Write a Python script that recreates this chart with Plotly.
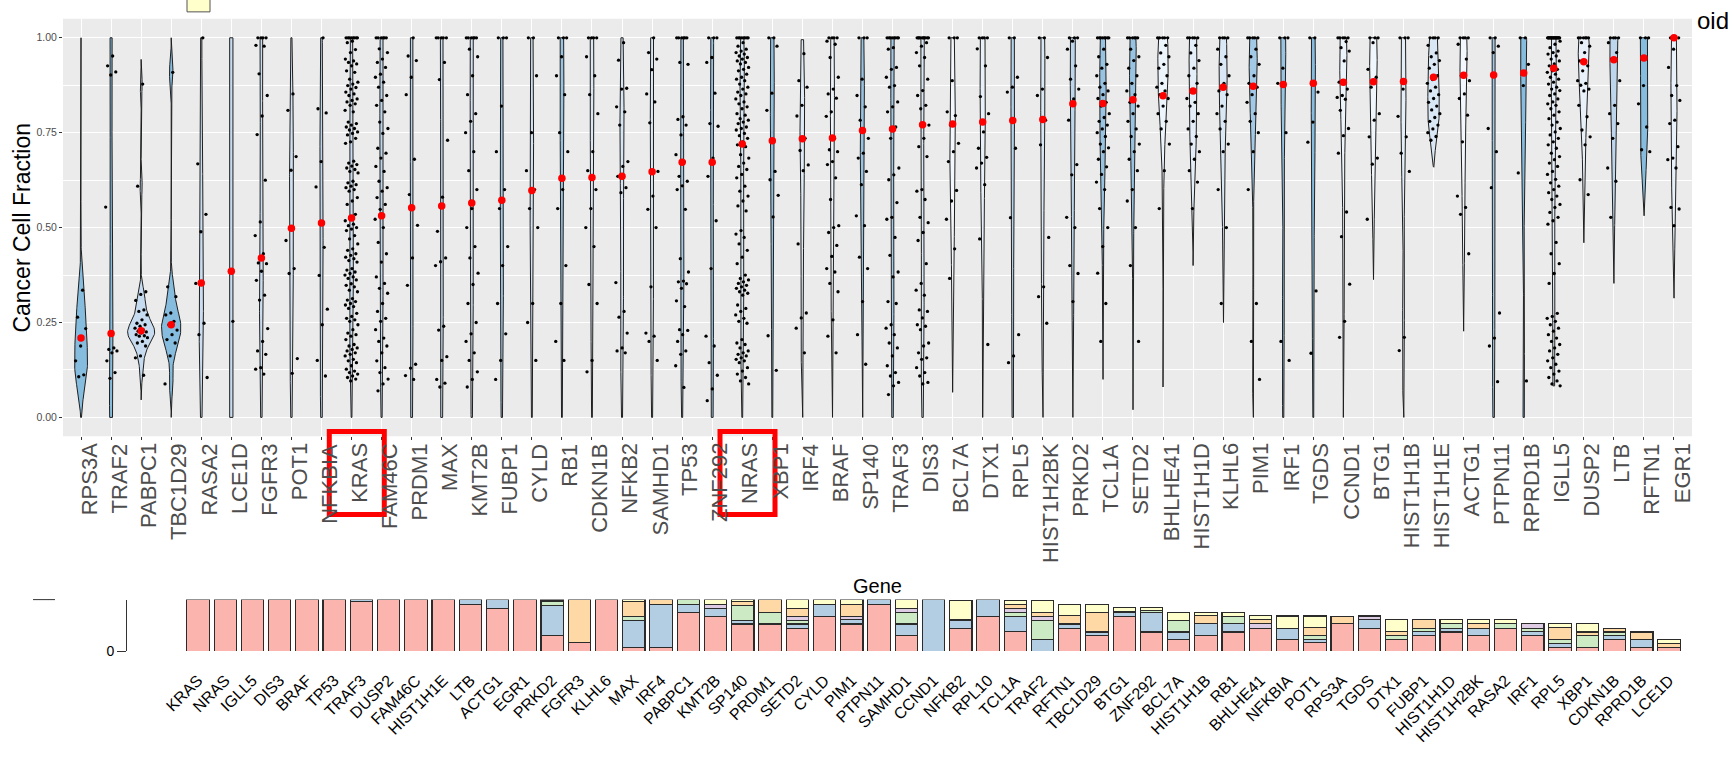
import numpy as np
import plotly.graph_objects as go

W, H = 1735, 760

# ---------------- violin panel: genes ordered by mean CCF ----------------
genes = ["RPS3A", "TRAF2", "PABPC1", "TBC1D29", "RASA2", "LCE1D", "FGFR3", "POT1", "NFKBIA",
         "KRAS", "FAM46C", "PRDM1", "MAX", "KMT2B", "FUBP1", "CYLD", "RB1", "CDKN1B", "NFKB2",
         "SAMHD1", "TP53", "ZNF292", "NRAS", "XBP1", "IRF4", "BRAF", "SP140", "TRAF3", "DIS3",
         "BCL7A", "DTX1", "RPL5", "HIST1H2BK", "PRKD2", "TCL1A", "SETD2", "BHLHE41", "HIST1H1D",
         "KLHL6", "PIM1", "IRF1", "TGDS", "CCND1", "BTG1", "HIST1H1B", "HIST1H1E", "ACTG1",
         "PTPN11", "RPRD1B", "IGLL5", "DUSP2", "LTB", "RFTN1", "EGR1"]

mean_ccf = [0.209, 0.221, 0.228, 0.244, 0.354, 0.385, 0.420, 0.498, 0.512, 0.525, 0.531, 0.552,
            0.557, 0.565, 0.572, 0.598, 0.630, 0.632, 0.635, 0.647, 0.672, 0.672, 0.720, 0.729,
            0.734, 0.736, 0.756, 0.760, 0.771, 0.773, 0.778, 0.782, 0.785, 0.826, 0.827, 0.837,
            0.847, 0.860, 0.870, 0.872, 0.877, 0.880, 0.883, 0.884, 0.885, 0.896, 0.901, 0.902,
            0.907, 0.920, 0.937, 0.942, 0.947, 1.000]

fill_score = [0.85, 0.85, 0.5, 0.85, 0.45, 0.5, 0.45, 0.4, 0.55, 0.45, 0.55, 0.6, 0.5, 0.4, 0.7,
              0.4, 0.75, 0.3, 0.35, 0.3, 0.7, 0.75, 0.35, 0.8, 0.25, 0.1, 0.75, 0.7, 0.3, 0.05,
              0.15, 0.6, 0.3, 0.55, 0.75, 0.75, 0.1, 0.2, 0.3, 0.7, 0.75, 0.85, 0.1, 0.08, 0.2,
              0.3, 0.05, 0.7, 0.85, 0.2, 0.15, 0.55, 0.85, 0.15]

violin_low = [0, 0, 0.046, 0, 0, 0, 0, 0, 0, 0, 0, 0, 0, 0, 0, 0, 0, 0, 0, 0, 0, 0, 0, 0, 0, 0,
              0, 0, 0, 0.066, 0, 0, 0, 0, 0.1, 0.02, 0.08, 0.4, 0.25, 0, 0, 0, 0, 0.363, 0,
              0.659, 0.227, 0, 0, 0.083, 0.46, 0.353, 0.531, 0.314]
violin_high = [1.0, 1.0, 0.943, 1.0, 1.0, 1.0, 1.0, 1.0, 1.0, 1.0, 1.0, 1.0, 1.0, 1.0, 1.0, 1.0,
               1.0, 1.0, 1.0, 1.0, 1.0, 1.0, 1.0, 1.0, 0.995, 1.0, 1.0, 1.0, 1.0, 1.0, 1.0, 1.0,
               1.0, 1.0, 1.0, 1.0, 1.0, 1.0, 1.0, 1.0, 1.0, 1.0, 1.0, 1.0, 1.0, 1.0, 1.0, 1.0,
               1.0, 1.0, 1.0, 1.0, 1.0, 1.0]

# per-sample CCF values
ccf_RPS3A = [0.335, 0.264, 0.234, 0.188, 0.149, 0.112, 0.107]
ccf_TRAF2 = [0.952, 0.926, 0.910, 0.902, 0.554, 0.183, 0.179, 0.175, 0.170, 0.149, 0.118, 0.103]
ccf_PABPC1 = [0.878, 0.609, 0.331, 0.324, 0.308, 0.283, 0.279, 0.270, 0.257, 0.248, 0.244, 0.240,
              0.235, 0.231, 0.227, 0.225, 0.222, 0.218, 0.215, 0.214, 0.210, 0.200, 0.196, 0.188,
              0.162, 0.157, 0.111]
ccf_TBC1D29 = [0.909, 0.344, 0.318, 0.275, 0.270, 0.253, 0.244, 0.230, 0.218, 0.205, 0.196, 0.162, 0.088]
ccf_RASA2 = [1.0, 0.668, 0.535, 0.489, 0.353, 0.248, 0.218, 0.105]
ccf_LCE1D = [0.253]
ccf_FGFR3 = [1.0, 1.0, 1.0, 1.0, 0.980, 0.978, 0.905, 0.848, 0.794, 0.745, 0.625, 0.515, 0.479,
             0.431, 0.407, 0.405, 0.385, 0.361, 0.322, 0.309, 0.234, 0.200, 0.175, 0.166, 0.131,
             0.127, 0.114]
ccf_POT1 = [0.852, 0.809, 0.687, 0.651, 0.466, 0.392, 0.379, 0.155, 0.116]
ccf_NFKBIA = [1.0, 0.813, 0.802, 0.674, 0.607, 0.448, 0.374, 0.285, 0.244, 0.150, 0.109]
ccf_KRAS = [1.0, 1.0, 1.0, 1.0, 1.0, 1.0, 1.0, 1.0, 0.991, 0.987, 0.969, 0.961, 0.944, 0.939,
            0.935, 0.931, 0.926, 0.913, 0.909, 0.891, 0.883, 0.878, 0.874, 0.869, 0.865, 0.857,
            0.852, 0.848, 0.839, 0.835, 0.831, 0.826, 0.822, 0.809, 0.805, 0.778, 0.774, 0.770,
            0.765, 0.761, 0.757, 0.752, 0.748, 0.744, 0.735, 0.726, 0.722, 0.675, 0.670, 0.666,
            0.662, 0.657, 0.653, 0.648, 0.644, 0.622, 0.618, 0.613, 0.609, 0.605, 0.600, 0.596,
            0.579, 0.570, 0.561, 0.535, 0.526, 0.518, 0.509, 0.505, 0.500, 0.496, 0.492, 0.479,
            0.470, 0.457, 0.444, 0.440, 0.431, 0.427, 0.422, 0.418, 0.413, 0.409, 0.392, 0.388,
            0.383, 0.379, 0.375, 0.370, 0.366, 0.362, 0.352, 0.348, 0.344, 0.335, 0.331, 0.313,
            0.309, 0.305, 0.300, 0.296, 0.292, 0.287, 0.274, 0.266, 0.261, 0.257, 0.253, 0.244,
            0.231, 0.222, 0.218, 0.214, 0.205, 0.192, 0.188, 0.183, 0.179, 0.175, 0.170, 0.166,
            0.162, 0.153, 0.149, 0.144, 0.136, 0.127, 0.122, 0.118, 0.114, 0.109, 0.105, 0.101,
            0.096]
ccf_FAM46C = [1.0, 1.0, 1.0, 1.0, 1.0, 1.0, 0.971, 0.961, 0.944, 0.935, 0.922, 0.904, 0.896,
              0.883, 0.870, 0.848, 0.835, 0.822, 0.805, 0.778, 0.761, 0.748, 0.709, 0.696, 0.683,
              0.661, 0.648, 0.622, 0.605, 0.596, 0.579, 0.561, 0.548, 0.522, 0.500, 0.461, 0.431,
              0.409, 0.370, 0.353, 0.340, 0.327, 0.300, 0.279, 0.261, 0.253, 0.231, 0.209, 0.200,
              0.188, 0.170, 0.149, 0.131, 0.118, 0.101, 0.088, 0.070]
ccf_PRDM1 = [1.0, 0.952, 0.940, 0.896, 0.850, 0.680, 0.587, 0.506, 0.420, 0.348, 0.140, 0.130,
             0.110, 0.100]
ccf_MAX = [1.0, 1.0, 1.0, 1.0, 1.0, 0.935, 0.890, 0.730, 0.580, 0.490, 0.420, 0.410, 0.400, 0.240,
           0.230, 0.160, 0.150, 0.100, 0.090, 0.080]
ccf_KMT2B = [1.0, 1.0, 1.0, 1.0, 1.0, 1.0, 0.970, 0.950, 0.900, 0.850, 0.800, 0.780, 0.750, 0.700,
             0.650, 0.600, 0.550, 0.500, 0.450, 0.420, 0.380, 0.350, 0.300, 0.250, 0.220, 0.200,
             0.170, 0.150, 0.120, 0.100, 0.080]
ccf_FUBP1 = [1.0, 1.0, 1.0, 0.820, 0.700, 0.600, 0.550, 0.450, 0.400, 0.300, 0.220, 0.150, 0.100]
ccf_CYLD = [1.0, 1.0, 0.900, 0.750, 0.650, 0.600, 0.550, 0.500, 0.300, 0.250, 0.150]
ccf_RB1 = [1.0, 1.0, 1.0, 0.950, 0.900, 0.850, 0.750, 0.700, 0.600, 0.550, 0.400, 0.300, 0.200, 0.150]
ccf_CDKN1B = [1.0, 1.0, 1.0, 1.0, 0.950, 0.900, 0.850, 0.800, 0.700, 0.650, 0.600, 0.550, 0.500,
              0.450, 0.350, 0.300, 0.150, 0.120]
ccf_NFKB2 = [0.987, 0.941, 0.867, 0.865, 0.818, 0.805, 0.770, 0.674, 0.661, 0.635, 0.605, 0.592,
             0.355, 0.279, 0.264, 0.222, 0.183, 0.175, 0.170]
ccf_SAMHD1 = [1.0, 0.961, 0.944, 0.916, 0.852, 0.831, 0.776, 0.648, 0.583, 0.548, 0.500, 0.344,
              0.222, 0.214, 0.200, 0.150]
ccf_TP53 = [1.0, 1.0, 1.0, 1.0, 1.0, 1.0, 0.935, 0.930, 0.792, 0.785, 0.770, 0.744, 0.692, 0.674,
            0.635, 0.622, 0.610, 0.600, 0.548, 0.418, 0.383, 0.359, 0.357, 0.352, 0.340, 0.307,
            0.292, 0.231, 0.229, 0.218, 0.200, 0.175, 0.166, 0.136, 0.079]
ccf_ZNF292 = [1.0, 1.0, 1.0, 0.948, 0.935, 0.854, 0.774, 0.767, 0.683, 0.635, 0.518, 0.392, 0.214,
              0.188, 0.144, 0.111, 0.075, 0.044]
ccf_NRAS = [1.0, 1.0, 1.0, 1.0, 1.0, 1.0, 1.0, 1.0, 0.987, 0.978, 0.970, 0.965, 0.961, 0.957,
            0.952, 0.948, 0.944, 0.939, 0.935, 0.931, 0.922, 0.917, 0.913, 0.904, 0.896, 0.891,
            0.887, 0.878, 0.870, 0.865, 0.857, 0.852, 0.848, 0.839, 0.831, 0.826, 0.818, 0.813,
            0.800, 0.796, 0.787, 0.783, 0.778, 0.774, 0.765, 0.761, 0.757, 0.748, 0.742, 0.735,
            0.726, 0.718, 0.713, 0.692, 0.683, 0.670, 0.661, 0.653, 0.640, 0.631, 0.609, 0.596,
            0.583, 0.570, 0.557, 0.544, 0.492, 0.483, 0.474, 0.457, 0.440, 0.422, 0.405, 0.375,
            0.366, 0.362, 0.357, 0.353, 0.348, 0.344, 0.340, 0.335, 0.331, 0.327, 0.322, 0.296,
            0.287, 0.279, 0.270, 0.261, 0.253, 0.248, 0.205, 0.196, 0.192, 0.183, 0.175, 0.170,
            0.166, 0.162, 0.157, 0.153, 0.149, 0.144, 0.131, 0.122, 0.114, 0.105, 0.096, 0.088]
ccf_XBP1 = [1.0, 1.0, 0.978, 0.854, 0.809, 0.648, 0.626, 0.585, 0.528, 0.215, 0.124]
ccf_IRF4 = [0.958, 0.887, 0.870, 0.822, 0.794, 0.735, 0.703, 0.665, 0.650, 0.457, 0.275, 0.262,
            0.235, 0.170]
ccf_BRAF = [1.0, 1.0, 1.0, 1.0, 0.991, 0.983, 0.948, 0.896, 0.865, 0.852, 0.841, 0.805, 0.793,
            0.735, 0.705, 0.700, 0.674, 0.666, 0.631, 0.574, 0.505, 0.500, 0.487, 0.453, 0.424,
            0.392, 0.383, 0.353, 0.331, 0.257, 0.214, 0.170]
ccf_SP140 = [1.0, 1.0, 1.0, 0.891, 0.848, 0.818, 0.783, 0.735, 0.696, 0.683, 0.648, 0.613, 0.531,
             0.505, 0.422, 0.392, 0.305, 0.218, 0.140]
ccf_TRAF3 = [1.0, 1.0, 1.0, 1.0, 1.0, 1.0, 1.0, 1.0, 0.974, 0.970, 0.922, 0.917, 0.896, 0.874,
             0.870, 0.831, 0.818, 0.805, 0.765, 0.735, 0.657, 0.639, 0.626, 0.566, 0.527, 0.522,
             0.474, 0.427, 0.383, 0.370, 0.305, 0.300, 0.244, 0.235, 0.218, 0.196, 0.183, 0.162,
             0.136, 0.118, 0.109, 0.092, 0.083, 0.060]
ccf_DIS3 = [1.0, 1.0, 1.0, 1.0, 1.0, 1.0, 1.0, 1.0, 1.0, 1.0, 0.987, 0.978, 0.961, 0.948, 0.926,
            0.891, 0.861, 0.848, 0.822, 0.813, 0.770, 0.735, 0.713, 0.687, 0.600, 0.596, 0.574,
            0.527, 0.513, 0.487, 0.466, 0.405, 0.353, 0.335, 0.322, 0.283, 0.279, 0.262, 0.244,
            0.240, 0.231, 0.196, 0.188, 0.170, 0.157, 0.153, 0.131, 0.118, 0.109, 0.092, 0.088]
ccf_BCL7A = [1.0, 1.0, 1.0, 0.887, 0.805, 0.795, 0.770, 0.722, 0.700, 0.674, 0.598, 0.570, 0.522,
             0.444, 0.366]
ccf_DTX1 = [1.0, 1.0, 1.0, 1.0, 0.971, 0.926, 0.845, 0.800, 0.752, 0.709, 0.685, 0.670, 0.657,
            0.613, 0.470, 0.192]
ccf_RPL5 = [1.0, 1.0, 0.896, 0.870, 0.857, 0.709, 0.526, 0.218, 0.162, 0.144]
ccf_HIST1H2BK = [1.0, 1.0, 0.948, 0.865, 0.848, 0.783, 0.718, 0.474, 0.344, 0.318, 0.248]
ccf_PRKD2 = [1.0, 1.0, 1.0, 0.991, 0.970, 0.926, 0.891, 0.865, 0.839, 0.783, 0.666, 0.639, 0.527,
             0.500, 0.400, 0.379, 0.305]
ccf_TCL1A = [1.0, 1.0, 1.0, 1.0, 1.0, 1.0, 1.0, 1.0, 0.970, 0.950, 0.930, 0.920, 0.900, 0.880,
             0.870, 0.860, 0.850, 0.840, 0.830, 0.820, 0.800, 0.790, 0.780, 0.770, 0.760, 0.750,
             0.740, 0.720, 0.710, 0.700, 0.680, 0.660, 0.640, 0.620, 0.600, 0.550, 0.500, 0.450,
             0.380, 0.300, 0.200]
ccf_SETD2 = [1.0, 1.0, 1.0, 1.0, 1.0, 1.0, 0.970, 0.950, 0.940, 0.920, 0.900, 0.880, 0.860, 0.850,
             0.830, 0.820, 0.800, 0.780, 0.760, 0.740, 0.720, 0.700, 0.680, 0.650, 0.600, 0.570,
             0.500, 0.400, 0.200]
ccf_BHLHE41 = [1.0, 1.0, 1.0, 1.0, 1.0, 0.980, 0.960, 0.950, 0.930, 0.920, 0.900, 0.880, 0.870,
               0.860, 0.850, 0.840, 0.820, 0.800, 0.780, 0.760, 0.720, 0.650, 0.550]
ccf_HIST1H1D = [1.0, 1.0, 1.0, 1.0, 1.0, 0.980, 0.960, 0.940, 0.920, 0.900, 0.880, 0.860, 0.840,
                0.830, 0.820, 0.800, 0.780, 0.760, 0.740, 0.720, 0.700, 0.680, 0.650, 0.620, 0.550]
ccf_KLHL6 = [1.0, 1.0, 1.0, 1.0, 0.970, 0.950, 0.930, 0.900, 0.880, 0.860, 0.850, 0.820, 0.800,
             0.780, 0.760, 0.720, 0.700, 0.600, 0.500, 0.300]
ccf_PIM1 = [1.0, 1.0, 1.0, 1.0, 1.0, 0.970, 0.950, 0.930, 0.900, 0.880, 0.870, 0.850, 0.830, 0.800,
            0.780, 0.750, 0.700, 0.600, 0.300, 0.200, 0.100]
ccf_IRF1 = [1.0, 1.0, 1.0, 0.920, 0.880, 0.750, 0.200, 0.150]
ccf_TGDS = [1.0, 1.0, 0.857, 0.778, 0.725, 0.333, 0.169]
ccf_CCND1 = [1.0, 1.0, 1.0, 1.0, 1.0, 0.990, 0.974, 0.965, 0.939, 0.883, 0.865, 0.848, 0.843,
             0.838, 0.809, 0.761, 0.742, 0.696, 0.541, 0.476, 0.351, 0.253, 0.211]
ccf_BTG1 = [1.0, 1.0, 1.0, 0.987, 0.917, 0.896, 0.870, 0.800, 0.783, 0.739, 0.683, 0.667, 0.522]
ccf_HIST1H1B = [1.0, 1.0, 1.0, 0.865, 0.793, 0.739, 0.696, 0.648, 0.211, 0.176]
ccf_HIST1H1E = [1.0, 1.0, 1.0, 1.0, 0.980, 0.960, 0.950, 0.940, 0.930, 0.920, 0.900, 0.890, 0.880,
                0.870, 0.860, 0.850, 0.840, 0.830, 0.820, 0.810, 0.800, 0.790, 0.780, 0.770,
                0.760, 0.750, 0.740, 0.730]
ccf_ACTG1 = [1.0, 1.0, 1.0, 1.0, 0.983, 0.944, 0.900, 0.887, 0.852, 0.840, 0.796, 0.726, 0.583,
             0.553, 0.535, 0.431]
ccf_PTPN11 = [1.0, 1.0, 0.978, 0.961, 0.761, 0.700, 0.605, 0.275, 0.209, 0.188, 0.094]
ccf_RPRD1B = [1.0, 1.0, 0.930, 0.874, 0.644, 0.096]
ccf_IGLL5 = [1.0, 1.0, 1.0, 1.0, 1.0, 1.0, 1.0, 1.0, 1.0, 1.0, 1.0, 1.0, 1.0, 1.0, 1.0, 1.0, 1.0,
             1.0, 1.0, 1.0, 0.991, 0.983, 0.974, 0.965, 0.961, 0.957, 0.952, 0.944, 0.939, 0.931,
             0.926, 0.917, 0.913, 0.909, 0.904, 0.896, 0.891, 0.883, 0.878, 0.870, 0.865, 0.861,
             0.852, 0.848, 0.839, 0.831, 0.826, 0.822, 0.813, 0.805, 0.796, 0.787, 0.778, 0.770,
             0.761, 0.752, 0.744, 0.735, 0.726, 0.718, 0.709, 0.696, 0.687, 0.679, 0.670, 0.661,
             0.648, 0.640, 0.627, 0.618, 0.609, 0.600, 0.592, 0.583, 0.574, 0.561, 0.553, 0.540,
             0.527, 0.518, 0.509, 0.461, 0.431, 0.405, 0.379, 0.353, 0.274, 0.266, 0.261, 0.253,
             0.244, 0.235, 0.227, 0.218, 0.209, 0.200, 0.192, 0.183, 0.175, 0.166, 0.157, 0.149,
             0.140, 0.131, 0.122, 0.114, 0.105, 0.096, 0.088, 0.083]
ccf_DUSP2 = [1.0, 1.0, 1.0, 1.0, 1.0, 1.0, 0.987, 0.978, 0.961, 0.939, 0.926, 0.913, 0.887, 0.880,
             0.875, 0.865, 0.860, 0.822, 0.792, 0.757, 0.739, 0.718, 0.626, 0.587]
ccf_LTB = [1.0, 1.0, 1.0, 1.0, 0.987, 0.961, 0.944, 0.887, 0.822, 0.800, 0.774, 0.735, 0.657,
           0.622, 0.527]
ccf_RFTN1 = [1.0, 1.0, 1.0, 0.874, 0.826, 0.765, 0.705, 0.700]
ccf_EGR1 = [1.0, 1.0, 1.0, 0.970, 0.922, 0.874, 0.848, 0.835, 0.783, 0.774, 0.713, 0.683, 0.679,
            0.657, 0.553, 0.549, 0.505]

gene_values = [ccf_RPS3A, ccf_TRAF2, ccf_PABPC1, ccf_TBC1D29, ccf_RASA2, ccf_LCE1D, ccf_FGFR3,
               ccf_POT1, ccf_NFKBIA, ccf_KRAS, ccf_FAM46C, ccf_PRDM1, ccf_MAX, ccf_KMT2B,
               ccf_FUBP1, ccf_CYLD, ccf_RB1, ccf_CDKN1B, ccf_NFKB2, ccf_SAMHD1, ccf_TP53,
               ccf_ZNF292, ccf_NRAS, ccf_XBP1, ccf_IRF4, ccf_BRAF, ccf_SP140, ccf_TRAF3, ccf_DIS3,
               ccf_BCL7A, ccf_DTX1, ccf_RPL5, ccf_HIST1H2BK, ccf_PRKD2, ccf_TCL1A, ccf_SETD2,
               ccf_BHLHE41, ccf_HIST1H1D, ccf_KLHL6, ccf_PIM1, ccf_IRF1, ccf_TGDS, ccf_CCND1,
               ccf_BTG1, ccf_HIST1H1B, ccf_HIST1H1E, ccf_ACTG1, ccf_PTPN11, ccf_RPRD1B, ccf_IGLL5,
               ccf_DUSP2, ccf_LTB, ccf_RFTN1, ccf_EGR1]

highlighted = ["KRAS", "NRAS"]

# ---------------- stacked bar panel ----------------
bar_genes = ["KRAS", "NRAS", "IGLL5", "DIS3", "BRAF", "TP53", "TRAF3", "DUSP2", "FAM46C",
             "HIST1H1E", "LTB", "ACTG1", "EGR1", "PRKD2", "FGFR3", "KLHL6", "MAX", "IRF4",
             "PABPC1", "KMT2B", "SP140", "PRDM1", "SETD2", "CYLD", "PIM1", "PTPN11", "SAMHD1",
             "CCND1", "NFKB2", "RPL10", "TCL1A", "TRAF2", "RFTN1", "TBC1D29", "BTG1", "ZNF292",
             "BCL7A", "HIST1H1B", "RB1", "BHLHE41", "NFKBIA", "POT1", "RPS3A", "TGDS", "DTX1",
             "FUBP1", "HIST1H1D", "HIST1H2BK", "RASA2", "IRF1", "RPL5", "XBP1", "CDKN1B",
             "RPRD1B", "LCE1D"]

group1 = [1.0, 1.0, 1.0, 1.0, 1.0, 1.0, 0.97, 1.0, 1.0, 1.0, 0.904, 0.82, 1.0, 0.306, 0.16, 1.0,
          0.07, 0.07, 0.75, 0.68, 0.526, 0.526, 0.442, 0.68, 0.526, 0.904, 0.30, 0, 0.442, 0.667,
          0.378, 0, 0.442, 0.30, 0.68, 0.37, 0.223, 0.30, 0.37, 0.446, 0.223, 0.16, 0.53, 0.446,
          0.223, 0.30, 0.37, 0.30, 0.446, 0.30, 0.064, 0.064, 0.223, 0.064, 0.064]
group2 = [0, 0, 0, 0, 0, 0, 0.03, 0, 0, 0, 0.096, 0.18, 0, 0.586, 0, 0, 0.52, 0.834, 0.16, 0.147,
          0.064, 0, 0.084, 0.23, 0.09, 0.096, 0.226, 1.0, 0.148, 0.333, 0.302, 0.23, 0.084, 0.07,
          0.065, 0.375, 0.147, 0.23, 0.16, 0, 0.223, 0.064, 0, 0.16, 0, 0.083, 0.077, 0.147, 0,
          0.083, 0.083, 0, 0.077, 0.159, 0]
group3 = [0, 0, 0, 0, 0, 0, 0, 0, 0, 0, 0, 0, 0, 0.064, 0, 0, 0.077, 0, 0.09, 0, 0.301, 0.224,
          0.064, 0, 0, 0, 0.224, 0, 0.025, 0, 0.07, 0.36, 0, 0, 0, 0.05, 0.216, 0, 0.14, 0, 0,
          0.077, 0, 0, 0.077, 0.064, 0.083, 0, 0.083, 0.064, 0.077, 0.236, 0.07, 0, 0]
group4 = [0, 0, 0, 0, 0, 0, 0, 0, 0, 0, 0, 0, 0, 0, 0, 0, 0, 0, 0, 0.083, 0, 0, 0.09, 0, 0.064,
          0, 0.077, 0, 0, 0, 0.077, 0.09, 0, 0, 0.03, 0, 0, 0, 0, 0.084, 0, 0, 0, 0.075, 0, 0, 0,
          0, 0, 0.083, 0, 0, 0, 0, 0]
group5 = [0, 0, 0, 0, 0, 0, 0, 0, 0, 0, 0, 0, 0, 0.02, 0.84, 0, 0.30, 0.096, 0, 0, 0.064, 0.25,
          0.147, 0, 0.23, 0, 0, 0, 0, 0, 0.083, 0.07, 0.16, 0.375, 0, 0, 0, 0.16, 0, 0.09, 0,
          0.165, 0.15, 0, 0.083, 0.16, 0, 0.083, 0, 0, 0.242, 0.07, 0.076, 0.147, 0.082]
group6 = [0, 0, 0, 0, 0, 0, 0, 0, 0, 0, 0, 0, 0, 0.025, 0, 0, 0.032, 0, 0, 0.09, 0.045, 0, 0.173,
          0.09, 0.09, 0, 0.173, 0, 0.372, 0, 0.077, 0.237, 0.224, 0.165, 0.065, 0.044, 0.159,
          0.06, 0.08, 0.064, 0.235, 0.216, 0, 0, 0.223, 0, 0.077, 0.077, 0.077, 0, 0.065, 0.16,
          0, 0, 0.077]

group_colors = ["#FBB4AE", "#B3CDE3", "#CCEBC5", "#DECBE4", "#FED9A6", "#FFFFCC"]


# ---------------- helpers ----------------
def px_x(p):
    return p / W


def px_y(p):
    return 1 - p / H


def bw_nrd0(v):
    v = np.asarray(v, float)
    n = len(v)
    sd = v.std(ddof=1)
    q75, q25 = np.percentile(v, [75, 25])
    lo = min(sd, (q75 - q25) / 1.34)
    if lo <= 0:
        lo = sd if sd > 0 else (abs(v[0]) if v[0] != 0 else 1.0)
    return 0.9 * lo * n ** -0.2


def kde(v, grid):
    v = np.asarray(v, float)
    if len(v) < 2:
        return np.full_like(grid, 1.0 / (grid[-1] - grid[0]))
    bw = bw_nrd0(v)
    z = (grid[:, None] - v[None, :]) / bw
    return np.exp(-0.5 * z ** 2).sum(axis=1) / (len(v) * bw * np.sqrt(2 * np.pi))


def blues(t):
    stops = [(0.0, (247, 251, 255)), (0.5, (198, 219, 239)), (1.0, (107, 174, 214))]
    t = min(max(t, 0.0), 1.0)
    for (t0, c0), (t1, c1) in zip(stops[:-1], stops[1:]):
        if t <= t1:
            f = (t - t0) / (t1 - t0)
            c = [round(a + (b - a) * f) for a, b in zip(c0, c1)]
            return "rgb({},{},{})".format(*c)
    return "rgb(107,174,214)"


FONT = "Liberation Sans, Arial, Helvetica, sans-serif"
fig = go.Figure()

# violins (area-scaled, trimmed to each gene's range)
grids, dens = [], []
for g, vals, lo, hi in zip(genes, gene_values, violin_low, violin_high):
    grid = np.linspace(lo, hi, 256)
    grids.append(grid)
    dens.append(kde(vals, grid))
dmax = max(d.max() for d in dens)

for i, (g, grid, d) in enumerate(zip(genes, grids, dens)):
    half = 0.45 * d / dmax
    xs = np.concatenate([i + half, (i - half)[::-1], [i + half[0]]])
    ys = np.concatenate([grid, grid[::-1], [grid[0]]])
    fig.add_trace(go.Scatter(
        x=xs, y=ys, mode="lines", fill="toself", fillcolor=blues(fill_score[i]),
        line=dict(color="#1f1f1f", width=1.0), hoverinfo="skip", showlegend=False,
        xaxis="x", yaxis="y"))

# jittered sample points
golden = 0.6180339887
px, py = [], []
for i, vals in enumerate(gene_values):
    for k, v in enumerate(vals):
        px.append(i + (((k + 1) * golden) % 1.0 - 0.5) * 0.44)
        py.append(v)
fig.add_trace(go.Scatter(x=px, y=py, mode="markers",
                         marker=dict(size=3.3, color="black"),
                         hoverinfo="skip", showlegend=False, xaxis="x", yaxis="y"))

# mean CCF per gene
fig.add_trace(go.Scatter(x=list(range(len(genes))), y=mean_ccf, mode="markers",
                         marker=dict(size=7.5, color="#FF0000"),
                         showlegend=False, xaxis="x", yaxis="y", text=genes))

# stacked bars
for vals, col in zip([group1, group2, group3, group4, group5, group6], group_colors):
    fig.add_trace(go.Bar(
        x=bar_genes, y=[v if v > 0 else None for v in vals],
        marker=dict(color=col, line=dict(color="#2b2b2b", width=1.1)),
        width=0.82, showlegend=False, xaxis="x2", yaxis="y2", hoverinfo="skip"))

annotations = []
for i, g in enumerate(genes):
    annotations.append(dict(
        x=i, xref="x", y=px_y(446), yref="paper", text=g, showarrow=False,
        textangle=-90, xanchor="center", yanchor="top", xshift=8,
        font=dict(family=FONT, size=22, color="#4D4D4D")))

annotations += [
    dict(x=px_x(22), y=px_y(230), xref="paper", yref="paper", text="Cancer Cell Fraction",
         textangle=-90, xanchor="center", yanchor="middle", showarrow=False,
         font=dict(family=FONT, size=23, color="black")),
    dict(x=px_x(877), y=px_y(592), xref="paper", yref="paper", text="Gene",
         xanchor="center", yanchor="middle", showarrow=False,
         font=dict(family=FONT, size=20, color="black")),
    dict(x=px_x(1695), y=px_y(21), xref="paper", yref="paper", text="oid",
         xanchor="left", yanchor="middle", showarrow=False,
         font=dict(family=FONT, size=24, color="black")),
]

shapes = [
    dict(type="rect", xref="x domain", yref="y domain", x0=0, x1=1, y0=0, y1=1,
         fillcolor="#EBEBEB", line_width=0, layer="below"),
    dict(type="line", xref="paper", yref="paper", x0=px_x(33), x1=px_x(55),
         y0=px_y(606), y1=px_y(606), line=dict(color="#333333", width=1)),
    dict(type="rect", xref="paper", yref="paper", x0=px_x(187), x1=px_x(210),
         y0=px_y(12), y1=px_y(-4), fillcolor="#FFFFCC", line=dict(color="#555555", width=1)),
]
for g in highlighted:
    i = genes.index(g)
    shapes.append(dict(type="rect", xref="x", yref="paper", x0=i - 0.74, x1=i + 1.09,
                       y0=px_y(520), y1=px_y(436),
                       line=dict(color="#FF0000", width=5), fillcolor="rgba(0,0,0,0)"))

fig.update_layout(
    width=W, height=H, autosize=False,
    margin=dict(l=0, r=0, t=0, b=0),
    paper_bgcolor="white", plot_bgcolor="rgba(0,0,0,0)",
    font=dict(family=FONT),
    barmode="stack", bargap=0.1,
    showlegend=False,
    annotations=annotations, shapes=shapes,
    xaxis=dict(domain=[px_x(63), px_x(1692)], range=[-0.6, len(genes) - 0.4],
               tickvals=list(range(len(genes))), showticklabels=False,
               ticks="outside", ticklen=3, tickcolor="#333333",
               showgrid=True, gridcolor="white", gridwidth=1.2, zeroline=False,
               anchor="y", fixedrange=True),
    yaxis=dict(domain=[px_y(441), px_y(19)], range=[-0.05, 1.05],
               tickvals=[0, 0.25, 0.5, 0.75, 1.0],
               ticktext=["0.00", "0.25", "0.50", "0.75", "1.00"],
               tickfont=dict(size=10.5, color="#4D4D4D"),
               ticks="outside", ticklen=3, tickcolor="#333333",
               showgrid=True, gridcolor="white", gridwidth=1.2, zeroline=False,
               minor=dict(tickvals=[0.125, 0.375, 0.625, 0.875], showgrid=True,
                          gridcolor="white", gridwidth=0.5, ticks=""),
               anchor="x", fixedrange=True),
    xaxis2=dict(domain=[px_x(127), 1.0], anchor="y2", type="category",
                categoryorder="array", categoryarray=bar_genes,
                range=[-2.606, 56.42], tickangle=-45, ticks="",
                ticklabelstandoff=16,
                tickfont=dict(size=16, color="black", family=FONT),
                showgrid=False, showline=False, zeroline=False, fixedrange=True),
    yaxis2=dict(domain=[px_y(658), px_y(606)], anchor="x2", range=[0, 1],
                tickvals=[0], ticktext=["0"], ticks="outside", ticklen=9,
                tickcolor="#333333", showline=True, linecolor="#333333", linewidth=1,
                showgrid=False, zeroline=False,
                tickfont=dict(size=14, color="black", family=FONT), fixedrange=True),
)

fig.write_html("out.html", config={"displayModeBar": False})
